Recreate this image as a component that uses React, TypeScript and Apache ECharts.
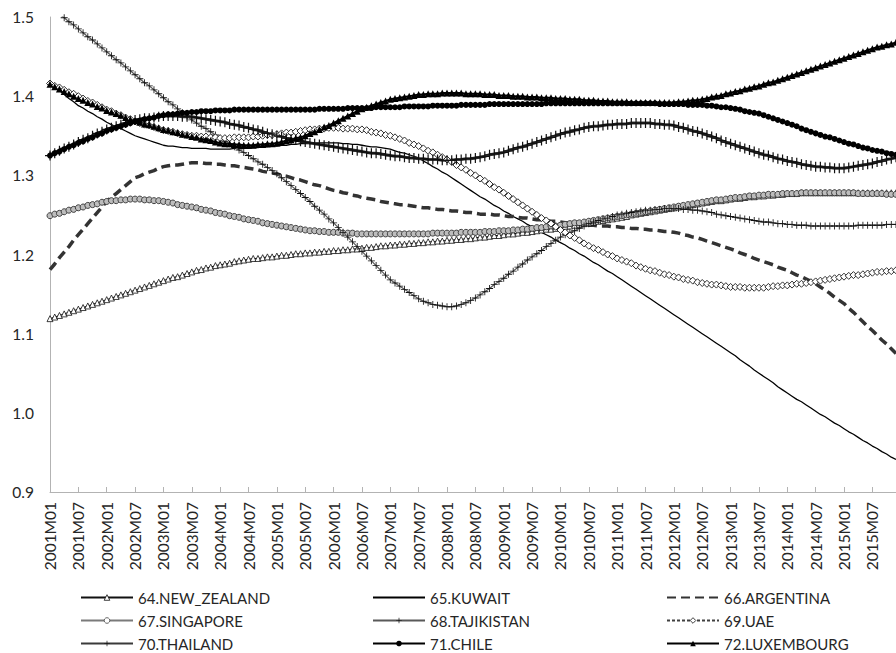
import React, { useEffect, useRef } from "react";
import * as echarts from "echarts";

const YEARS = [2001, 2002, 2003, 2004, 2005, 2006, 2007, 2008, 2009, 2010, 2011, 2012, 2013, 2014, 2015];
const MONTHS = ["01", "02", "03", "04", "05", "06", "07", "08", "09", "10", "11", "12"];
const categories = YEARS.flatMap((y) => MONTHS.map((m) => `${y}M${m}`));

const Y_MIN = 0.9;
const Y_MAX = 1.5;
const Y_STEP = 0.1;

const newZealand = [
  1.119, 1.121, 1.123, 1.125, 1.127, 1.129,
  1.131, 1.133, 1.135, 1.137, 1.139, 1.141,
  1.143, 1.145, 1.147, 1.149, 1.151, 1.153,
  1.155, 1.157, 1.159, 1.161, 1.163, 1.165,
  1.167, 1.169, 1.171, 1.172, 1.174, 1.176,
  1.178, 1.180, 1.181, 1.183, 1.184, 1.186,
  1.187, 1.188, 1.189, 1.191, 1.192, 1.193,
  1.194, 1.195, 1.195, 1.196, 1.197, 1.197,
  1.198, 1.199, 1.199, 1.200, 1.201, 1.201,
  1.202, 1.202, 1.203, 1.203, 1.204, 1.204,
  1.205, 1.205, 1.206, 1.206, 1.207, 1.207,
  1.208, 1.209, 1.209, 1.210, 1.211, 1.211,
  1.212, 1.212, 1.213, 1.213, 1.214, 1.214,
  1.215, 1.215, 1.216, 1.216, 1.217, 1.217,
  1.218, 1.218, 1.219, 1.219, 1.220, 1.220,
  1.221, 1.222, 1.222, 1.223, 1.224, 1.224,
  1.225, 1.226, 1.226, 1.227, 1.228, 1.228,
  1.229, 1.230, 1.231, 1.232, 1.232, 1.233,
  1.234, 1.235, 1.236, 1.237, 1.238, 1.239,
  1.240, 1.241, 1.242, 1.243, 1.244, 1.245,
  1.246, 1.247, 1.248, 1.250, 1.251, 1.252,
  1.253, 1.254, 1.255, 1.256, 1.257, 1.258,
  1.259, 1.260, 1.261, 1.262, 1.263, 1.264,
  1.265, 1.266, 1.267, 1.268, 1.268, 1.269,
  1.270, 1.271, 1.271, 1.272, 1.273, 1.273,
  1.274, 1.274, 1.275, 1.275, 1.276, 1.276,
  1.277, 1.277, 1.277, 1.278, 1.278, 1.278,
  1.278, 1.278, 1.278, 1.278, 1.278, 1.278,
  1.278, 1.278, 1.278, 1.278, 1.278, 1.278,
  1.278, 1.278, 1.278, 1.278, 1.278, 1.278,
];

const kuwait = [
  1.416, 1.411, 1.407, 1.402, 1.397, 1.393,
  1.388, 1.385, 1.381, 1.378, 1.374, 1.371,
  1.367, 1.364, 1.361, 1.359, 1.356, 1.353,
  1.350, 1.348, 1.346, 1.344, 1.342, 1.340,
  1.338, 1.337, 1.337, 1.336, 1.335, 1.335,
  1.334, 1.334, 1.334, 1.334, 1.333, 1.333,
  1.333, 1.333, 1.333, 1.334, 1.334, 1.334,
  1.334, 1.335, 1.335, 1.336, 1.336, 1.337,
  1.337, 1.338, 1.338, 1.339, 1.339, 1.340,
  1.340, 1.340, 1.341, 1.341, 1.341, 1.341,
  1.341, 1.341, 1.340, 1.340, 1.339, 1.339,
  1.338, 1.337, 1.336, 1.336, 1.335, 1.334,
  1.333, 1.331, 1.329, 1.328, 1.326, 1.324,
  1.322, 1.318, 1.315, 1.311, 1.308, 1.304,
  1.301, 1.297, 1.293, 1.289, 1.285, 1.281,
  1.277, 1.273, 1.270, 1.266, 1.262, 1.259,
  1.255, 1.252, 1.248, 1.245, 1.242, 1.238,
  1.235, 1.232, 1.228, 1.225, 1.222, 1.218,
  1.215, 1.212, 1.208, 1.205, 1.201, 1.198,
  1.194, 1.190, 1.187, 1.183, 1.179, 1.176,
  1.172, 1.168, 1.164, 1.160, 1.156, 1.152,
  1.148, 1.144, 1.140, 1.136, 1.132, 1.128,
  1.124, 1.120, 1.116, 1.112, 1.108, 1.104,
  1.100, 1.096, 1.092, 1.088, 1.084, 1.080,
  1.076, 1.072, 1.067, 1.063, 1.059, 1.054,
  1.050, 1.046, 1.042, 1.038, 1.033, 1.029,
  1.025, 1.021, 1.017, 1.014, 1.010, 1.006,
  1.002, 0.998, 0.995, 0.991, 0.987, 0.984,
  0.980, 0.976, 0.973, 0.969, 0.965, 0.962,
  0.958, 0.955, 0.951, 0.948, 0.944, 0.941,
];

const argentina = [
  1.181, 1.188, 1.196, 1.203, 1.210, 1.218,
  1.225, 1.232, 1.239, 1.246, 1.253, 1.260,
  1.267, 1.272, 1.277, 1.282, 1.287, 1.292,
  1.297, 1.299, 1.302, 1.304, 1.306, 1.309,
  1.311, 1.312, 1.313, 1.313, 1.314, 1.315,
  1.316, 1.316, 1.316, 1.315, 1.315, 1.314,
  1.314, 1.313, 1.312, 1.312, 1.311, 1.310,
  1.309, 1.308, 1.307, 1.305, 1.304, 1.303,
  1.302, 1.300, 1.299, 1.297, 1.295, 1.294,
  1.292, 1.290, 1.288, 1.287, 1.285, 1.283,
  1.281, 1.280, 1.278, 1.277, 1.275, 1.274,
  1.272, 1.271, 1.270, 1.269, 1.267, 1.266,
  1.265, 1.264, 1.263, 1.263, 1.262, 1.261,
  1.260, 1.259, 1.259, 1.258, 1.257, 1.257,
  1.256, 1.255, 1.255, 1.254, 1.253, 1.253,
  1.252, 1.251, 1.251, 1.251, 1.250, 1.250,
  1.249, 1.248, 1.248, 1.247, 1.246, 1.246,
  1.245, 1.244, 1.244, 1.243, 1.242, 1.242,
  1.241, 1.240, 1.240, 1.239, 1.238, 1.238,
  1.237, 1.237, 1.236, 1.236, 1.236, 1.235,
  1.235, 1.234, 1.234, 1.233, 1.233, 1.232,
  1.232, 1.231, 1.231, 1.230, 1.229, 1.229,
  1.228, 1.227, 1.225, 1.224, 1.222, 1.221,
  1.219, 1.217, 1.215, 1.213, 1.211, 1.209,
  1.207, 1.205, 1.202, 1.200, 1.198, 1.195,
  1.193, 1.191, 1.189, 1.187, 1.184, 1.182,
  1.180, 1.177, 1.174, 1.172, 1.169, 1.166,
  1.163, 1.159, 1.155, 1.151, 1.146, 1.142,
  1.138, 1.132, 1.127, 1.121, 1.115, 1.109,
  1.104, 1.098, 1.092, 1.087, 1.081, 1.075,
];

const singapore = [
  1.249, 1.251, 1.252, 1.254, 1.256, 1.257,
  1.259, 1.260, 1.262, 1.263, 1.264, 1.266,
  1.267, 1.268, 1.268, 1.269, 1.269, 1.270,
  1.270, 1.270, 1.269, 1.269, 1.268, 1.268,
  1.267, 1.266, 1.265, 1.263, 1.262, 1.261,
  1.260, 1.259, 1.257, 1.256, 1.255, 1.253,
  1.252, 1.251, 1.249, 1.248, 1.247, 1.245,
  1.244, 1.243, 1.242, 1.240, 1.239, 1.238,
  1.237, 1.236, 1.235, 1.234, 1.233, 1.232,
  1.231, 1.230, 1.230, 1.229, 1.229, 1.228,
  1.228, 1.228, 1.227, 1.227, 1.227, 1.226,
  1.226, 1.226, 1.226, 1.226, 1.226, 1.226,
  1.226, 1.226, 1.226, 1.226, 1.226, 1.226,
  1.226, 1.226, 1.226, 1.227, 1.227, 1.227,
  1.227, 1.227, 1.227, 1.228, 1.228, 1.228,
  1.228, 1.228, 1.229, 1.229, 1.229, 1.230,
  1.230, 1.230, 1.231, 1.231, 1.232, 1.232,
  1.233, 1.234, 1.234, 1.235, 1.236, 1.236,
  1.237, 1.238, 1.239, 1.240, 1.240, 1.241,
  1.242, 1.243, 1.244, 1.245, 1.246, 1.247,
  1.248, 1.249, 1.250, 1.251, 1.252, 1.253,
  1.254, 1.255, 1.256, 1.257, 1.258, 1.259,
  1.260, 1.261, 1.262, 1.263, 1.264, 1.265,
  1.266, 1.267, 1.268, 1.269, 1.269, 1.270,
  1.271, 1.272, 1.272, 1.273, 1.274, 1.274,
  1.275, 1.275, 1.276, 1.276, 1.276, 1.277,
  1.277, 1.277, 1.277, 1.278, 1.278, 1.278,
  1.278, 1.278, 1.278, 1.278, 1.278, 1.278,
  1.278, 1.278, 1.278, 1.277, 1.277, 1.277,
  1.277, 1.277, 1.277, 1.276, 1.276, 1.276,
];

const tajikistan = [
  1.513, 1.508, 1.504, 1.499, 1.494, 1.490,
  1.485, 1.480, 1.475, 1.471, 1.466, 1.461,
  1.456, 1.451, 1.446, 1.442, 1.437, 1.432,
  1.427, 1.422, 1.417, 1.413, 1.408, 1.403,
  1.398, 1.393, 1.389, 1.384, 1.379, 1.375,
  1.370, 1.366, 1.362, 1.359, 1.355, 1.351,
  1.347, 1.343, 1.340, 1.336, 1.332, 1.329,
  1.325, 1.321, 1.317, 1.314, 1.310, 1.306,
  1.302, 1.297, 1.292, 1.287, 1.282, 1.277,
  1.272, 1.267, 1.261, 1.256, 1.251, 1.245,
  1.240, 1.234, 1.228, 1.222, 1.216, 1.210,
  1.204, 1.198, 1.192, 1.186, 1.180, 1.174,
  1.168, 1.164, 1.160, 1.156, 1.152, 1.148,
  1.144, 1.141, 1.139, 1.137, 1.136, 1.135,
  1.134, 1.134, 1.135, 1.137, 1.139, 1.142,
  1.145, 1.149, 1.153, 1.157, 1.162, 1.166,
  1.170, 1.175, 1.179, 1.184, 1.188, 1.193,
  1.197, 1.201, 1.205, 1.210, 1.214, 1.218,
  1.222, 1.225, 1.228, 1.230, 1.233, 1.236,
  1.239, 1.241, 1.243, 1.245, 1.246, 1.248,
  1.250, 1.251, 1.252, 1.253, 1.254, 1.255,
  1.256, 1.256, 1.257, 1.257, 1.258, 1.258,
  1.258, 1.258, 1.257, 1.257, 1.256, 1.256,
  1.255, 1.254, 1.253, 1.251, 1.250, 1.249,
  1.248, 1.247, 1.246, 1.245, 1.244, 1.243,
  1.242, 1.241, 1.241, 1.240, 1.239, 1.239,
  1.238, 1.238, 1.237, 1.237, 1.237, 1.236,
  1.236, 1.236, 1.236, 1.236, 1.236, 1.236,
  1.236, 1.236, 1.236, 1.237, 1.237, 1.237,
  1.237, 1.237, 1.237, 1.238, 1.238, 1.238,
];

const uae = [
  1.416, 1.413, 1.411, 1.408, 1.405, 1.403,
  1.400, 1.397, 1.394, 1.392, 1.389, 1.386,
  1.383, 1.381, 1.378, 1.376, 1.373, 1.371,
  1.368, 1.366, 1.364, 1.363, 1.361, 1.359,
  1.357, 1.356, 1.355, 1.353, 1.352, 1.351,
  1.350, 1.350, 1.349, 1.349, 1.348, 1.348,
  1.347, 1.347, 1.347, 1.348, 1.348, 1.348,
  1.348, 1.349, 1.349, 1.350, 1.351, 1.351,
  1.352, 1.353, 1.354, 1.354, 1.355, 1.356,
  1.357, 1.358, 1.358, 1.359, 1.359, 1.360,
  1.360, 1.360, 1.359, 1.359, 1.359, 1.358,
  1.358, 1.357, 1.355, 1.354, 1.353, 1.351,
  1.350, 1.348, 1.346, 1.344, 1.341, 1.339,
  1.337, 1.334, 1.331, 1.329, 1.326, 1.323,
  1.320, 1.317, 1.313, 1.310, 1.307, 1.303,
  1.300, 1.296, 1.293, 1.289, 1.285, 1.282,
  1.278, 1.274, 1.270, 1.266, 1.262, 1.258,
  1.254, 1.250, 1.246, 1.243, 1.239, 1.235,
  1.231, 1.228, 1.224, 1.221, 1.218, 1.214,
  1.211, 1.208, 1.206, 1.203, 1.200, 1.198,
  1.195, 1.193, 1.191, 1.189, 1.186, 1.184,
  1.182, 1.180, 1.179, 1.177, 1.175, 1.174,
  1.172, 1.171, 1.169, 1.168, 1.167, 1.165,
  1.164, 1.163, 1.162, 1.162, 1.161, 1.160,
  1.159, 1.159, 1.159, 1.158, 1.158, 1.158,
  1.158, 1.158, 1.159, 1.160, 1.160, 1.161,
  1.161, 1.162, 1.163, 1.163, 1.164, 1.165,
  1.166, 1.167, 1.168, 1.169, 1.170, 1.171,
  1.172, 1.173, 1.174, 1.174, 1.175, 1.176,
  1.177, 1.178, 1.178, 1.179, 1.179, 1.180,
];

const thailand = [
  1.325, 1.328, 1.331, 1.334, 1.336, 1.339,
  1.342, 1.345, 1.347, 1.350, 1.353, 1.355,
  1.358, 1.360, 1.362, 1.364, 1.366, 1.368,
  1.370, 1.371, 1.372, 1.372, 1.373, 1.374,
  1.375, 1.375, 1.375, 1.375, 1.374, 1.374,
  1.374, 1.373, 1.372, 1.371, 1.370, 1.369,
  1.368, 1.367, 1.365, 1.364, 1.363, 1.361,
  1.360, 1.358, 1.357, 1.355, 1.353, 1.352,
  1.350, 1.349, 1.347, 1.346, 1.345, 1.343,
  1.342, 1.341, 1.340, 1.339, 1.338, 1.337,
  1.336, 1.335, 1.334, 1.333, 1.332, 1.331,
  1.330, 1.329, 1.328, 1.328, 1.327, 1.326,
  1.325, 1.324, 1.324, 1.323, 1.322, 1.322,
  1.321, 1.321, 1.320, 1.320, 1.320, 1.319,
  1.319, 1.319, 1.320, 1.320, 1.321, 1.321,
  1.322, 1.323, 1.324, 1.326, 1.327, 1.328,
  1.329, 1.331, 1.333, 1.335, 1.336, 1.338,
  1.340, 1.342, 1.344, 1.346, 1.348, 1.350,
  1.352, 1.354, 1.355, 1.357, 1.358, 1.360,
  1.361, 1.362, 1.362, 1.363, 1.364, 1.364,
  1.365, 1.365, 1.365, 1.366, 1.366, 1.366,
  1.366, 1.366, 1.365, 1.365, 1.364, 1.364,
  1.363, 1.361, 1.360, 1.358, 1.356, 1.355,
  1.353, 1.351, 1.349, 1.347, 1.344, 1.342,
  1.340, 1.338, 1.336, 1.334, 1.332, 1.330,
  1.328, 1.326, 1.325, 1.323, 1.321, 1.320,
  1.318, 1.317, 1.316, 1.314, 1.313, 1.312,
  1.311, 1.311, 1.310, 1.310, 1.309, 1.309,
  1.309, 1.310, 1.311, 1.312, 1.313, 1.314,
  1.315, 1.317, 1.318, 1.320, 1.321, 1.323,
];

const chile = [
  1.325, 1.328, 1.330, 1.333, 1.336, 1.338,
  1.341, 1.343, 1.346, 1.348, 1.351, 1.353,
  1.356, 1.358, 1.360, 1.362, 1.364, 1.366,
  1.368, 1.369, 1.371, 1.372, 1.373, 1.375,
  1.376, 1.377, 1.377, 1.378, 1.379, 1.379,
  1.380, 1.380, 1.381, 1.381, 1.381, 1.382,
  1.382, 1.382, 1.382, 1.383, 1.383, 1.383,
  1.383, 1.383, 1.383, 1.383, 1.383, 1.383,
  1.383, 1.383, 1.383, 1.383, 1.383, 1.383,
  1.383, 1.383, 1.383, 1.384, 1.384, 1.384,
  1.384, 1.384, 1.384, 1.385, 1.385, 1.385,
  1.385, 1.385, 1.385, 1.386, 1.386, 1.386,
  1.386, 1.386, 1.386, 1.387, 1.387, 1.387,
  1.387, 1.387, 1.387, 1.388, 1.388, 1.388,
  1.388, 1.388, 1.388, 1.389, 1.389, 1.389,
  1.389, 1.389, 1.389, 1.390, 1.390, 1.390,
  1.390, 1.390, 1.390, 1.390, 1.390, 1.390,
  1.390, 1.390, 1.390, 1.391, 1.391, 1.391,
  1.391, 1.391, 1.391, 1.391, 1.391, 1.391,
  1.391, 1.391, 1.391, 1.391, 1.391, 1.391,
  1.391, 1.391, 1.391, 1.391, 1.391, 1.391,
  1.391, 1.391, 1.391, 1.390, 1.390, 1.390,
  1.390, 1.390, 1.390, 1.389, 1.389, 1.389,
  1.389, 1.388, 1.388, 1.387, 1.386, 1.386,
  1.385, 1.384, 1.383, 1.381, 1.380, 1.379,
  1.378, 1.376, 1.374, 1.372, 1.370, 1.368,
  1.366, 1.364, 1.362, 1.359, 1.357, 1.355,
  1.353, 1.351, 1.349, 1.348, 1.346, 1.344,
  1.342, 1.340, 1.339, 1.337, 1.335, 1.334,
  1.332, 1.331, 1.330, 1.328, 1.327, 1.326,
];

const luxembourg = [
  1.415, 1.412, 1.409, 1.406, 1.403, 1.400,
  1.397, 1.395, 1.392, 1.390, 1.387, 1.385,
  1.382, 1.380, 1.378, 1.376, 1.373, 1.371,
  1.369, 1.367, 1.365, 1.364, 1.362, 1.360,
  1.358, 1.357, 1.355, 1.354, 1.352, 1.351,
  1.349, 1.348, 1.346, 1.345, 1.344, 1.342,
  1.341, 1.340, 1.340, 1.339, 1.339, 1.338,
  1.338, 1.338, 1.339, 1.339, 1.340, 1.340,
  1.341, 1.342, 1.344, 1.345, 1.347, 1.348,
  1.350, 1.353, 1.355, 1.358, 1.361, 1.363,
  1.366, 1.369, 1.372, 1.375, 1.378, 1.381,
  1.384, 1.386, 1.388, 1.390, 1.392, 1.394,
  1.396, 1.397, 1.398, 1.399, 1.400, 1.401,
  1.402, 1.402, 1.403, 1.403, 1.403, 1.404,
  1.404, 1.404, 1.404, 1.404, 1.403, 1.403,
  1.403, 1.403, 1.402, 1.402, 1.402, 1.401,
  1.401, 1.401, 1.400, 1.400, 1.400, 1.399,
  1.399, 1.399, 1.398, 1.398, 1.398, 1.397,
  1.397, 1.397, 1.396, 1.396, 1.396, 1.395,
  1.395, 1.395, 1.394, 1.394, 1.394, 1.393,
  1.393, 1.393, 1.393, 1.392, 1.392, 1.392,
  1.392, 1.392, 1.392, 1.392, 1.392, 1.392,
  1.392, 1.393, 1.393, 1.394, 1.395, 1.395,
  1.396, 1.397, 1.399, 1.400, 1.401, 1.403,
  1.404, 1.406, 1.407, 1.409, 1.410, 1.412,
  1.413, 1.415, 1.417, 1.418, 1.420, 1.422,
  1.424, 1.426, 1.428, 1.430, 1.432, 1.434,
  1.436, 1.438, 1.440, 1.442, 1.444, 1.446,
  1.448, 1.450, 1.452, 1.454, 1.456, 1.458,
  1.460, 1.462, 1.463, 1.465, 1.466, 1.468,
];

const NAMES = {
  nz: "64.NEW_ZEALAND",
  kw: "65.KUWAIT",
  ar: "66.ARGENTINA",
  sg: "67.SINGAPORE",
  tj: "68.TAJIKISTAN",
  ae: "69.UAE",
  th: "70.THAILAND",
  cl: "71.CHILE",
  lu: "72.LUXEMBOURG",
};

// legend grid: rows then columns, as in the reference
const LEGEND_ROWS = [
  [NAMES.nz, NAMES.kw, NAMES.ar],
  [NAMES.sg, NAMES.tj, NAMES.ae],
  [NAMES.th, NAMES.cl, NAMES.lu],
];

const FONT = "Lato, 'Liberation Sans', sans-serif";
const TEXT_COLOR = "#262626";
const AXIS_COLOR = "#b3b3b3";
const PLUS = "path://M4.4,0h1.2v4.4h4.4v1.2h-4.4v4.4h-1.2v-4.4h-4.4v-1.2h4.4z";

export default function App() {
  const ref = useRef<HTMLDivElement>(null);

  useEffect(() => {
    if (!ref.current) return;
    const chart = echarts.init(ref.current, null, { renderer: "svg" });

    const base = {
      type: "line",
      silent: true,
      showAllSymbol: true,
      emphasis: { disabled: true },
      clip: true,
    };

    const series = [
      {
        ...base,
        name: NAMES.nz,
        data: newZealand,
        symbol: "triangle",
        symbolSize: 6,
        itemStyle: { color: "#ffffff", borderColor: "#111", borderWidth: 0.8 },
        lineStyle: { color: "#111", width: 1 },
      },
      {
        ...base,
        name: NAMES.kw,
        data: kuwait,
        symbol: "none",
        itemStyle: { color: "#000" },
        lineStyle: { color: "#000", width: 1.3 },
      },
      {
        ...base,
        name: NAMES.ar,
        data: argentina,
        symbol: "none",
        itemStyle: { color: "#333" },
        lineStyle: { color: "#333", width: 3.5, type: [9, 5] },
      },
      {
        ...base,
        name: NAMES.sg,
        data: singapore,
        symbol: "circle",
        symbolSize: 6,
        itemStyle: { color: "#bdbdbd", borderColor: "#404040", borderWidth: 1 },
        lineStyle: { color: "#7a7a7a", width: 2.5 },
      },
      {
        ...base,
        name: NAMES.tj,
        data: tajikistan,
        symbol: PLUS,
        symbolSize: 7,
        itemStyle: { color: "#111" },
        lineStyle: { color: "#595959", width: 1.2 },
      },
      {
        ...base,
        name: NAMES.ae,
        data: uae,
        symbol: "diamond",
        symbolSize: 7,
        itemStyle: { color: "#ffffff", borderColor: "#1a1a1a", borderWidth: 0.9 },
        lineStyle: { color: "#404040", width: 1, type: [3, 2] },
      },
      {
        ...base,
        name: NAMES.th,
        data: thailand,
        symbol: PLUS,
        symbolSize: 10,
        itemStyle: { color: "#111" },
        lineStyle: { color: "#3a3a3a", width: 3 },
      },
      {
        ...base,
        name: NAMES.cl,
        data: chile,
        symbol: "circle",
        symbolSize: 6,
        itemStyle: { color: "#000" },
        lineStyle: { color: "#000", width: 2 },
      },
      {
        ...base,
        name: NAMES.lu,
        data: luxembourg,
        symbol: "triangle",
        symbolSize: 7,
        itemStyle: { color: "#000" },
        lineStyle: { color: "#000", width: 2 },
      },
    ];

    // per-entry legend icon overrides (line-only entries hide their symbol)
    const legendItemStyle: Record<string, any> = {
      [NAMES.kw]: { opacity: 0 },
      [NAMES.ar]: { opacity: 0 },
      [NAMES.nz]: { color: "#ffffff", borderColor: "#111", borderWidth: 0.8 },
      [NAMES.ae]: { color: "#ffffff", borderColor: "#111", borderWidth: 0.8 },
      [NAMES.sg]: { color: "#ffffff", borderColor: "#404040", borderWidth: 0.8 },
    };

    const colLeft = [80, 372, 666];
    const rowCenter = [597, 620, 643];
    const LINE_H = 14;
    const legends: any[] = [];
    LEGEND_ROWS.forEach((row, r) => {
      row.forEach((name, c) => {
        const item: any = { name };
        if (legendItemStyle[name]) item.itemStyle = legendItemStyle[name];
        legends.push({
          orient: "horizontal",
          left: colLeft[c],
          top: rowCenter[r] - LINE_H / 2,
          padding: 0,
          itemWidth: 52,
          itemHeight: 7,
          itemGap: 0,
          selectedMode: false,
          data: [item],
          textStyle: { fontFamily: FONT, fontSize: 15, color: TEXT_COLOR, lineHeight: LINE_H },
        });
      });
    });

    chart.setOption({
      animation: false,
      backgroundColor: "#ffffff",
      textStyle: { fontFamily: FONT },
      grid: { left: 50, top: 17, width: 850.8, height: 475, containLabel: false },
      legend: legends,
      xAxis: {
        type: "category",
        data: categories,
        boundaryGap: false,
        axisLine: { show: true, lineStyle: { color: AXIS_COLOR, width: 1 } },
        axisTick: {
          show: true,
          inside: true,
          length: 5,
          interval: 5,
          lineStyle: { color: AXIS_COLOR },
        },
        axisLabel: {
          interval: 5,
          rotate: 90,
          margin: 10,
          fontFamily: FONT,
          fontSize: 15.5,
          color: TEXT_COLOR,
        },
        splitLine: { show: false },
      },
      yAxis: {
        type: "value",
        min: Y_MIN,
        max: Y_MAX,
        interval: Y_STEP,
        axisLine: { show: true, lineStyle: { color: AXIS_COLOR, width: 1 } },
        axisTick: { show: false },
        splitLine: { show: false },
        axisLabel: {
          margin: 16,
          fontFamily: FONT,
          fontSize: 15.5,
          color: TEXT_COLOR,
          formatter: (v: number) => v.toFixed(1),
        },
      },
      series,
    });

    return () => chart.dispose();
  }, []);

  return (
    <div
      ref={ref}
      style={{ position: "absolute", left: 0, top: 0, width: 896, height: 653, background: "#fff" }}
    />
  );
}
